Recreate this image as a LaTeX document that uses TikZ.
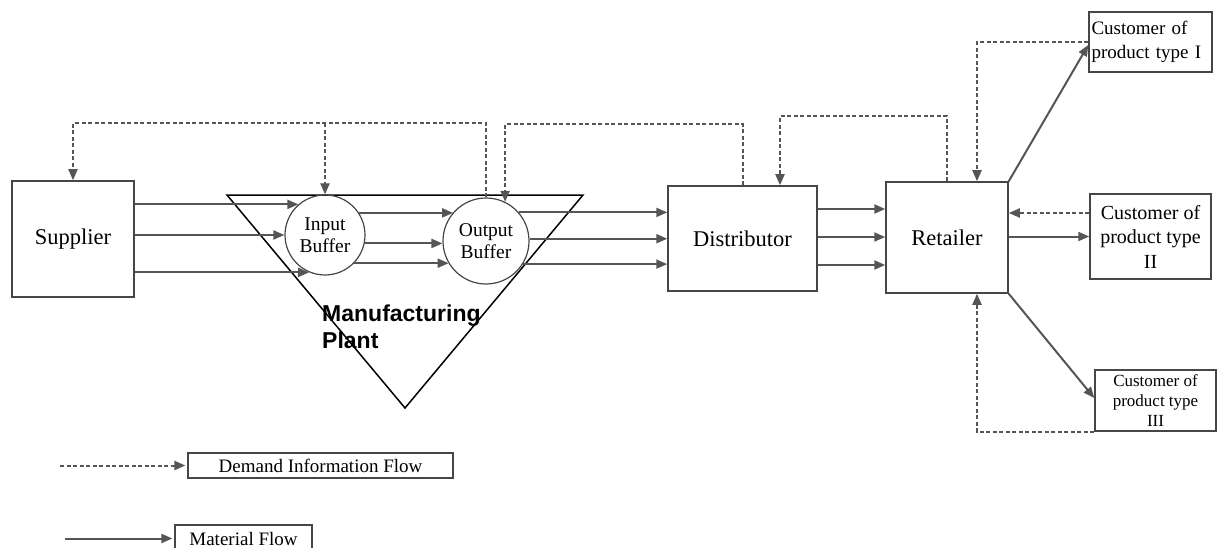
\documentclass[tikz,border=0pt]{standalone}
\usepackage{fontspec}
\setmainfont{Liberation Serif}
\newfontfamily\plantfont{Liberation Sans}
\usepackage{tikz}
\usetikzlibrary{arrows.meta,calc}
\usepackage{xcolor}
\definecolor{linegrey}{RGB}{85,85,85}
\definecolor{boxgrey}{RGB}{70,70,70}

\tikzset{
  unit/.style={draw=boxgrey, line width=1.5pt, inner sep=2pt, align=center,
    font=\fontsize{22.5}{26}\selectfont},
  buffer/.style={circle, draw=boxgrey, line width=1.2pt, inner sep=0pt, align=center,
    font=\fontsize{19.5}{22}\selectfont},
  custbox/.style={draw=boxgrey, line width=1.5pt, inner sep=2pt, align=center,
    font=\fontsize{20}{24.5}\selectfont},
  legendbox/.style={draw=boxgrey, line width=1.2pt, inner sep=0pt,
    font=\fontsize{19}{22}\selectfont},
  matflow/.style={draw=linegrey, line width=2pt, -{Triangle[length=11pt,width=9pt]}},
  infoflow/.style={draw=linegrey, line width=2pt, dash pattern=on 4pt off 2.5pt,
    -{Triangle[length=11pt,width=9pt]}},
}

\begin{document}
\begin{tikzpicture}[x=1pt, y=-1pt]
        \useasboundingbox (0,0) rectangle (1217,548);
        % Manufacturing plant (triangle)
        \draw[line width=1.5pt] (227,195) -- (583,195) -- (405,408) -- cycle;
        \node[anchor=north west, inner sep=0pt, align=left,
          font=\plantfont\bfseries\fontsize{23}{27}\selectfont] (plantlabel) at (322,305)
          {Manufacturing\\Plant};
        % Chain members
        \node[unit, minimum width=122pt, minimum height=116pt] (Supplier) at (73,239) {Supplier};
        \node[buffer, minimum size=80pt] (inbuf) at (325,235) {Input\\Buffer};
        \node[buffer, minimum size=86pt] (outbuf) at (486,241) {Output\\Buffer};
        \node[unit, minimum width=149pt, minimum height=105pt] (Distributor) at (742.5,238.5) {Distributor};
        \node[unit, minimum width=122pt, minimum height=111pt] (Retailer) at (947,237.5) {Retailer};
        % Customers
        \node[custbox, minimum width=123pt, minimum height=60pt, text width=118pt,
          align=left, inner sep=2pt, font=\fontsize{19}{24.5}\selectfont] (Cust1) at (1150.5,42)
          {Customer of\\product type I};
        \node[custbox, minimum width=121pt, minimum height=85pt] (Cust2) at (1150.5,236.5)
          {Customer of\\product type\\II};
        \node[custbox, minimum width=121pt, minimum height=61pt,
          font=\fontsize{17}{20}\selectfont] (Cust3) at (1155.5,400.5)
          {Customer of\\product type\\III};
        % Material flow: supplier -> input buffer -> output buffer -> distributor
        \foreach \ang in {131,180,247}{
          \draw[matflow] (inbuf.\ang -| Supplier.east) -- (inbuf.\ang);
        }
        \foreach \a/\b in {33/139, 348/183, 316/211}{
          \draw[matflow] (inbuf.\a) -- (inbuf.\a -| outbuf.\b);
        }
        \foreach \ang in {41,3,328}{
          \draw[matflow] (outbuf.\ang) -- (outbuf.\ang -| Distributor.west);
        }
        % distributor -> retailer
        \foreach \dy in {-29.5,-1.5,26.5}{
          \draw[matflow] ($(Distributor.east)+(0,\dy)$) coordinate (dst) -- (dst -| Retailer.west);
        }
        % retailer -> customers
        \draw[matflow] (Retailer.north east) -- ($(Cust1.west)+(0,3)$);
        \draw[matflow] (Cust2.west -| Retailer.east) -- (Cust2.west);
        \draw[matflow] (Retailer.south east) -- ($(Cust3.west)+(0,-2.5)$);
        % Demand information flow
        \draw[infoflow] (Cust1.west) -| ($(Retailer.north)+(30,0)$);
        \draw[infoflow] ($(Cust2.west)+(0,-23.5)$) coordinate (c2info) -- (c2info -| Retailer.east);
        \draw[infoflow] (Cust3.south west) -| ($(Retailer.south)+(30,0)$);
        \draw[infoflow] (Retailer.north) -- ++(0,-65) -| ($(Distributor.north)+(37.5,0)$);
        \draw[infoflow] (Distributor.north) -- ++(0,-61) -| (outbuf.64);
        \draw[infoflow] (outbuf.north) -- ++(0,-74) coordinate (topline) -| (Supplier.north);
        \draw[infoflow] (topline -| inbuf.north) -- (inbuf.north);
        % Legend
        \node[legendbox, minimum width=265pt, minimum height=25pt] (DemandBox) at (320.5,465.5)
          {Demand Information Flow};
        \node[legendbox, minimum width=137pt, minimum height=27pt] (MatBox) at (243.5,538.5)
          {Material Flow};
        \coordinate (infotail) at (60,465.5);
        \coordinate (mattail) at (65,538.5);
        \draw[infoflow, shorten >=2pt] (infotail) -- (DemandBox.west);
        \draw[matflow, shorten >=2pt] (mattail) -- (MatBox.west);
\end{tikzpicture}
\end{document}
